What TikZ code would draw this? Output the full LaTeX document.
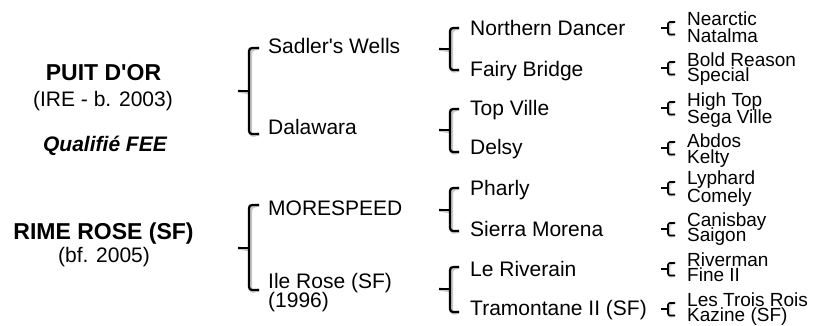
\documentclass[tikz,border=0pt]{standalone}
\usepackage{fontspec}
\setmainfont{Liberation Sans}
\usetikzlibrary{calc}
\tikzset{
  title/.style={font=\fontsize{23}{27}\selectfont\bfseries, inner sep=0pt, text height=16.5pt, text depth=0pt},
  subt/.style={font=\fontsize{21}{25}\selectfont, inner sep=0pt, text height=15pt, text depth=0pt},
  qual/.style={font=\fontsize{21}{25}\selectfont\bfseries\itshape, inner sep=0pt, text height=15pt, text depth=0pt},
  gen/.style={anchor=west, font=\fontsize{21}{25}\selectfont, inner sep=0pt, text height=15pt, text depth=0pt},
  gensmall/.style={anchor=west, font=\fontsize{19}{23}\selectfont, inner sep=0pt, text height=13.6pt, text depth=0pt},
  brkline/.style={draw=black, line width=2.2pt, rounded corners=3pt},
  brkshade/.style={draw=black!22, line width=3.2pt, rounded corners=3pt, xshift=1.6pt, yshift=-1.8pt},
  brksmall/.style={draw=black, line width=1.6pt, rounded corners=2pt},
  brksmallshade/.style={draw=black!20, line width=2.4pt, rounded corners=2pt, xshift=1.2pt, yshift=-1.2pt},
}
% #1 style suffix, #2 vertical x, #3 tick end x, #4 top y, #5 bottom y, #6 mid y, #7 mid tick start x
\newcommand\pedbrk[7]{%
  \coordinate (bt) at (#3,#4);
  \coordinate (bb) at (#3,#5);
  \coordinate (bm) at (#7,#6);
  \draw[#1shade] (bt) -- (#2,#4) -- (#2,#5) -- (bb);
  \draw[#1shade] (bm) -- (#2,#6);
  \draw[#1line] (bt) -- (#2,#4) -- (#2,#5) -- (bb);
  \draw[#1line,rounded corners=0pt] (bm) -- (#2,#6);
}
\newcommand\pedsmall[3]{%
  \coordinate (st) at (675,#1);
  \coordinate (sb) at (675,#2);
  \coordinate (sm) at (661,#3);
  \draw[brksmallshade] (st) -- (668,#1) -- (668,#2) -- (sb);
  \draw[brksmall] (st) -- (668,#1) -- (668,#2) -- (sb);
  \draw[brksmall,rounded corners=0pt] (sm) -- (668,#3);
}
\begin{document}
\begin{tikzpicture}[x=1pt,y=-1pt]
\useasboundingbox (0,0) rectangle (817,326);
% left column
\node[title] (puit) at (103.5,72.5) {PUIT D\textquotesingle OR};
\node[subt] (ire) at (103,99) {(IRE - b. 2003)};
\node[qual] (qual) at (105,143.7) {Qualifié FEE};
\node[title] (rime) at (103.5,231) {RIME ROSE (SF)};
\node[subt] (bf) at (104,255) {(bf. 2005)};
% generation 1
\node[gen] (sadler) at (268,46.5) {Sadler\textquotesingle s Wells};
\node[gen] (dalawara) at (268,127.5) {Dalawara};
\node[gen] (morespeed) at (268,208) {MORESPEED};
\node[gen] (ilerose) at (268,280.5) {Ile Rose (SF)};
\node[gen] (ile1996) at (268,299.5) {(1996)};
% generation 2
\node[gen] (northern) at (470,28.5) {Northern Dancer};
\node[gen] (fairy) at (470,69) {Fairy Bridge};
\node[gen] (topville) at (470,108.5) {Top Ville};
\node[gen] (delsy) at (470,147.5) {Delsy};
\node[gen] (pharly) at (470,188.5) {Pharly};
\node[gen] (sierra) at (470,228.5) {Sierra Morena};
\node[gen] (riverain) at (470,268.5) {Le Riverain};
\node[gen] (tramontane) at (470,307.5) {Tramontane II (SF)};
% generation 3
\node[gensmall] (nearctic) at (687,18.5) {Nearctic};
\node[gensmall] (natalma) at (687,35.5) {Natalma};
\node[gensmall] (bold) at (687,60) {Bold Reason};
\node[gensmall] (special) at (687,75) {Special};
\node[gensmall] (hightop) at (687,100) {High Top};
\node[gensmall] (sega) at (687,116.5) {Sega Ville};
\node[gensmall] (abdos) at (687,140.5) {Abdos};
\node[gensmall] (kelty) at (687,157) {Kelty};
\node[gensmall] (lyphard) at (687,177.5) {Lyphard};
\node[gensmall] (comely) at (687,195.5) {Comely};
\node[gensmall] (canisbay) at (687,219.5) {Canisbay};
\node[gensmall] (saigon) at (687,235) {Saigon};
\node[gensmall] (riverman) at (687,259.5) {Riverman};
\node[gensmall] (fine) at (687,275) {Fine II};
\node[gensmall] (trois) at (687,299.5) {Les Trois Rois};
\node[gensmall] (kazine) at (687,315) {Kazine (SF)};
% brackets generation 1
\pedbrk{brk}{249}{259}{48}{134}{91}{238}
\pedbrk{brk}{249}{259}{205}{290}{248}{238}
% brackets generation 2
\pedbrk{brk}{450}{459}{28}{70}{49}{439}
\pedbrk{brk}{450}{459}{109}{152}{130}{439}
\pedbrk{brk}{450}{459}{188}{231}{210}{439}
\pedbrk{brk}{450}{459}{267}{312}{289}{439}
% brackets generation 3
\pedsmall{22}{34.5}{28}
\pedsmall{62}{74.5}{68}
\pedsmall{102}{114.5}{108}
\pedsmall{142}{154.5}{148}
\pedsmall{182}{194.5}{188}
\pedsmall{223}{235.5}{229}
\pedsmall{263}{275.5}{269}
\pedsmall{303}{315.5}{309}
\end{tikzpicture}
\end{document}
